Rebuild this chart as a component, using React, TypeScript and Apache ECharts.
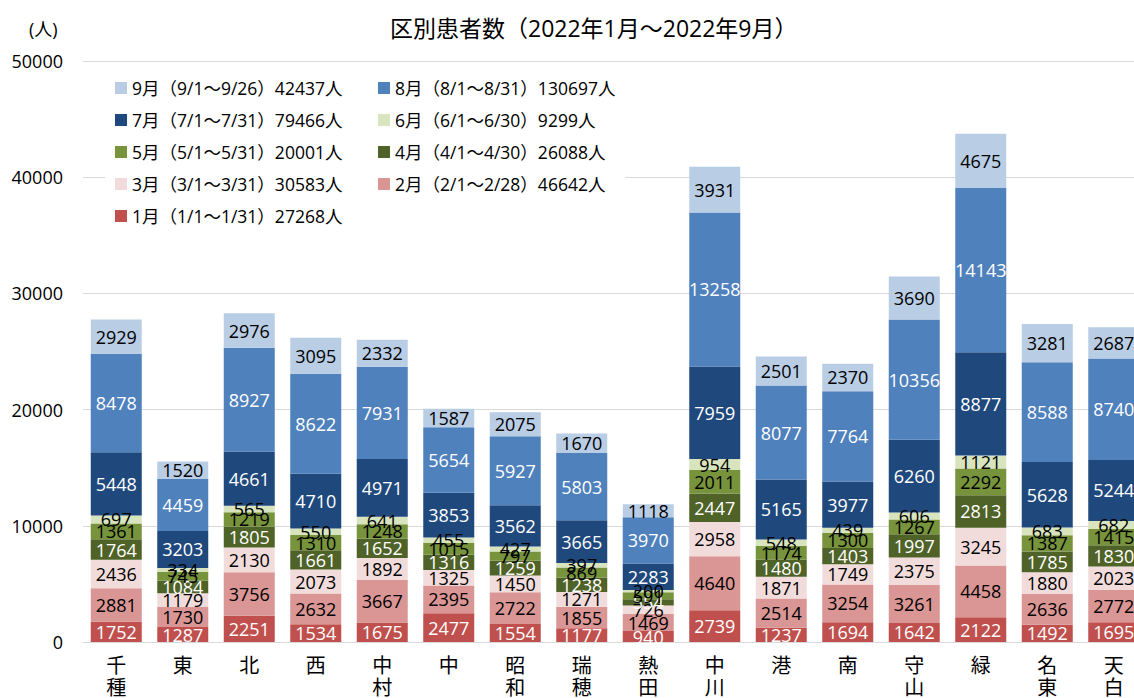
import React, { useEffect, useRef } from "react";
import * as echarts from "echarts";

const districts = ["千種", "東", "北", "西", "中村", "中", "昭和", "瑞穂", "熱田", "中川", "港", "南", "守山", "緑", "名東", "天白"];

const jan = [1752, 1287, 2251, 1534, 1675, 2477, 1554, 1177, 940, 2739, 1237, 1694, 1642, 2122, 1492, 1695];
const feb = [2881, 1730, 3756, 2632, 3667, 2395, 2722, 1855, 1469, 4640, 2514, 3254, 3261, 4458, 2636, 2772];
const mar = [2436, 1179, 2130, 2073, 1892, 1325, 1450, 1271, 726, 2958, 1871, 1749, 2375, 3245, 1880, 2023];
const apr = [1764, 1084, 1805, 1661, 1652, 1316, 1259, 1238, 554, 2447, 1480, 1403, 1997, 2813, 1785, 1830];
const may = [1361, 745, 1219, 1310, 1248, 1015, 797, 869, 591, 2011, 1174, 1300, 1267, 2292, 1387, 1415];
const jun = [697, 334, 565, 550, 641, 455, 427, 397, 200, 954, 548, 439, 606, 1121, 683, 682];
const jul = [5448, 3203, 4661, 4710, 4971, 3853, 3562, 3665, 2283, 7959, 5165, 3977, 6260, 8877, 5628, 5244];
const aug = [8478, 4459, 8927, 8622, 7931, 5654, 5927, 5803, 3970, 13258, 8077, 7764, 10356, 14143, 8588, 8740];
const sep = [2929, 1520, 2976, 3095, 2332, 1587, 2075, 1670, 1118, 3931, 2501, 2370, 3690, 4675, 3281, 2687];

const seriesNames = [
  "1月（1/1～1/31）27268人",
  "2月（2/1～2/28）46642人",
  "3月（3/1～3/31）30583人",
  "4月（4/1～4/30）26088人",
  "5月（5/1～5/31）20001人",
  "6月（6/1～6/30）9299人",
  "7月（7/1～7/31）79466人",
  "8月（8/1～8/31）130697人",
  "9月（9/1～9/26）42437人",
];
const seriesData = [jan, feb, mar, apr, may, jun, jul, aug, sep];
const seriesColors = ["#C0504D", "#D99694", "#F2DCDB", "#4F6228", "#77933C", "#D7E4BD", "#1F497D", "#4F81BD", "#B9CDE5"];
const labelColors = ["#fff", "#000", "#000", "#fff", "#000", "#000", "#fff", "#fff", "#000"];

const yMin = 0;
const yMax = 50000;
const yInterval = 10000;

const FONT = "'Open Sans', 'Noto Sans CJK JP', sans-serif";

export default function App() {
  const ref = useRef<HTMLDivElement>(null);
  useEffect(() => {
    document.body.style.margin = "0";
    document.body.style.overflow = "hidden";
    document.documentElement.style.overflow = "hidden";
    if (!ref.current) return;
    const chart = echarts.init(ref.current, null, { renderer: "svg" });
    const legendText = { fontFamily: FONT, fontSize: 17.5, color: "#000", lineHeight: 20 };
    chart.setOption({
      animation: false,
      backgroundColor: "#fff",
      textStyle: { fontFamily: FONT },
      title: [
        {
          text: "区別患者数（2022年1月～2022年9月）",
          left: 385,
          top: 11,
          textStyle: { fontFamily: FONT, fontSize: 23, fontWeight: "normal", color: "#000" },
        },
        {
          text: "(人)",
          left: 24,
          top: 15,
          textStyle: { fontFamily: FONT, fontSize: 18, fontWeight: "normal", color: "#000" },
        },
      ],
      legend: [
        {
          orient: "vertical",
          left: 105,
          top: 70,
          padding: [8, 30, 10, 10],
          backgroundColor: "#fff",
          itemWidth: 12,
          itemHeight: 12,
          itemGap: 12,
          icon: "rect",
          textStyle: legendText,
          data: [seriesNames[8], seriesNames[6], seriesNames[4], seriesNames[2], seriesNames[0]],
        },
        {
          orient: "vertical",
          left: 368,
          top: 70,
          padding: [8, 10, 10, 10],
          backgroundColor: "#fff",
          itemWidth: 12,
          itemHeight: 12,
          itemGap: 12,
          icon: "rect",
          textStyle: legendText,
          data: [seriesNames[7], seriesNames[5], seriesNames[3], seriesNames[1]],
        },
      ],
      grid: { left: 83, top: 61, right: 0, bottom: 54, containLabel: false },
      xAxis: {
        type: "category",
        data: districts,
        axisLine: { show: true, lineStyle: { color: "#D9D9D9", width: 1 } },
        axisTick: { show: false },
        axisLabel: {
          interval: 0,
          margin: 12,
          fontFamily: FONT,
          fontSize: 20,
          lineHeight: 22,
          color: "#000",
          formatter: (v: string) => v.split("").join("\n"),
        },
      },
      yAxis: {
        type: "value",
        min: yMin,
        max: yMax,
        interval: yInterval,
        axisLine: { show: false },
        axisTick: { show: false },
        axisLabel: {
          fontFamily: FONT,
          fontSize: 18,
          color: "#000",
          margin: 20,
          formatter: (v: number) => String(v),
        },
        splitLine: { lineStyle: { color: "#D9D9D9", width: 1 } },
      },
      series: seriesData.map((d, i) => ({
        name: seriesNames[i],
        type: "bar",
        stack: "total",
        barWidth: 51,
        data: d,
        itemStyle: { color: seriesColors[i] },
        label: {
          show: true,
          position: "inside",
          fontFamily: FONT,
          fontSize: 18,
          color: labelColors[i],
          textBorderWidth: 0,
        },
      })),
    });
    return () => chart.dispose();
  }, []);
  return <div ref={ref} style={{ width: 1147, height: 698 }} />;
}
